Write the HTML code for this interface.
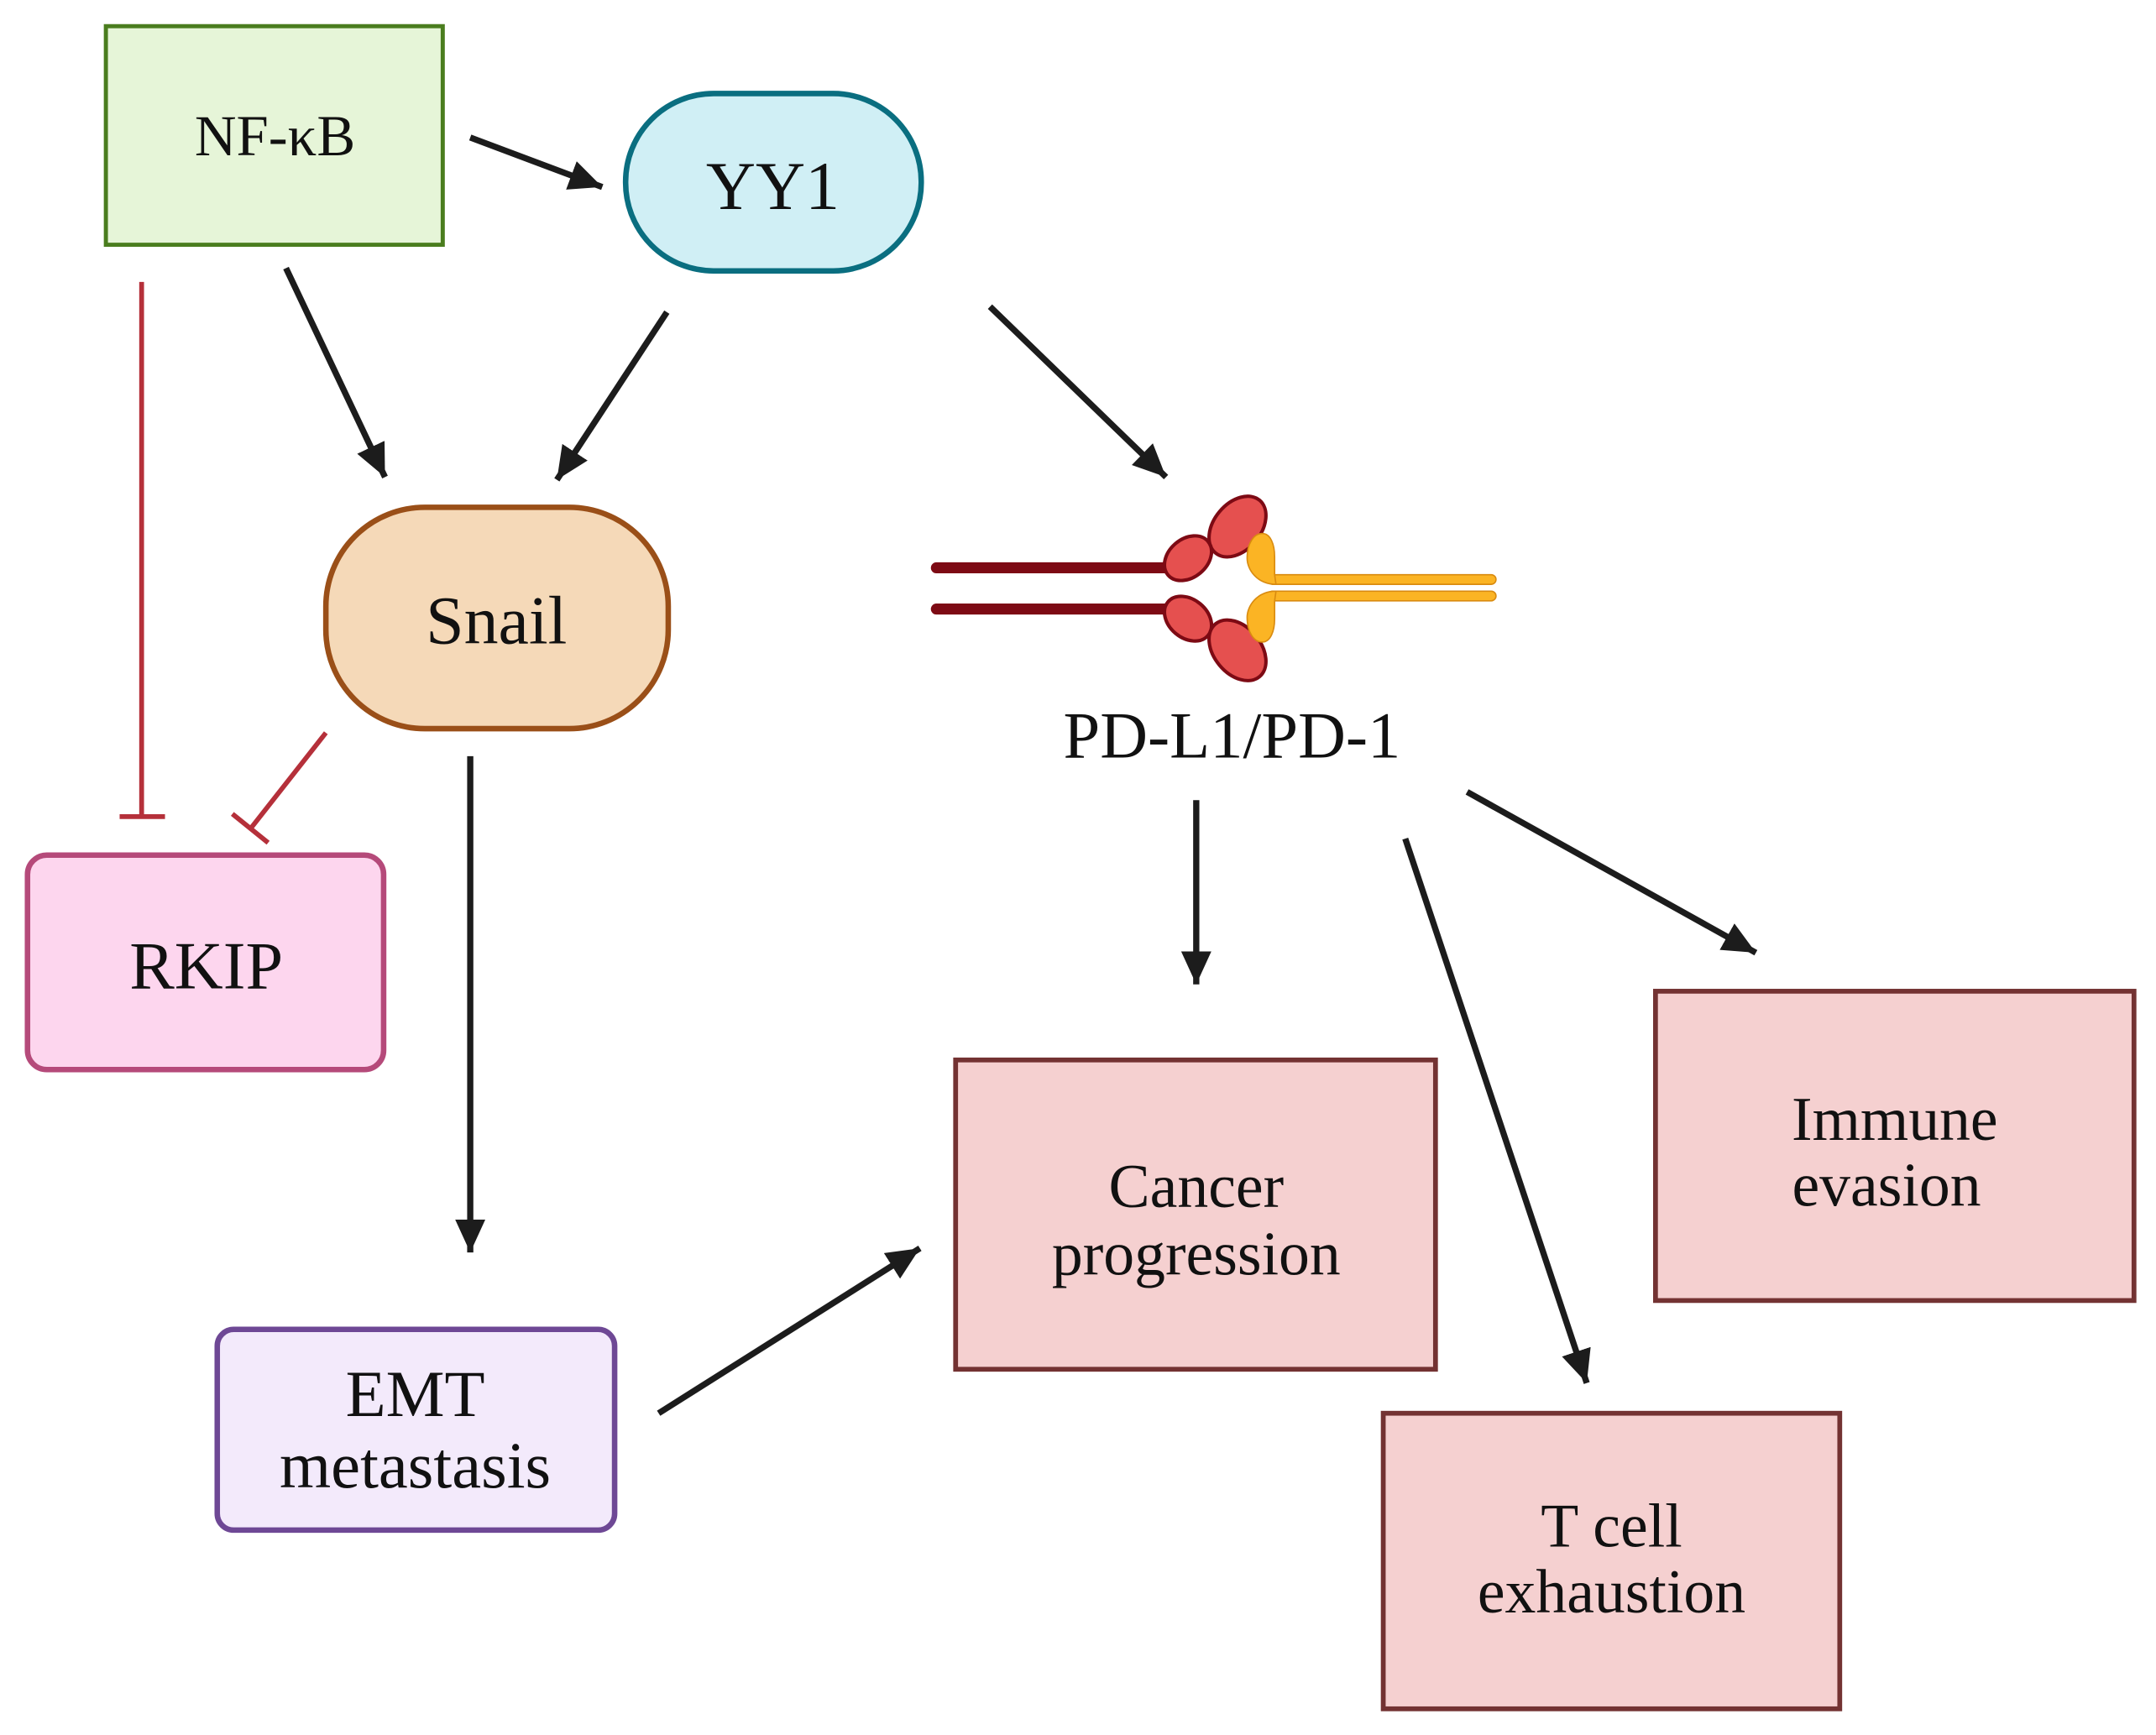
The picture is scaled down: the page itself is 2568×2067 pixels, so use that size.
<!DOCTYPE html>
<html><head><meta charset="utf-8"><style>
html,body{margin:0;padding:0;background:#fff;}
svg{display:block;}
text{font-family:"Liberation Serif","Times New Roman",serif;fill:#111;text-anchor:middle;}
</style></head><body>
<svg width="2568" height="2067" viewBox="0 0 1568 1262" xmlns="http://www.w3.org/2000/svg">
<defs>
<marker id="ah" markerUnits="userSpaceOnUse" markerWidth="30" markerHeight="30" refX="24" refY="11" orient="auto">
<polygon points="0,0 24,11 0,22" fill="#1c1c1c"/>
</marker>
</defs>
<rect width="1568" height="1262" fill="#fff"/>

<rect x="77" y="19" width="245" height="159" fill="#e6f5d8" stroke="#4a7d1e" stroke-width="3"/>
<text x="200" y="113" font-size="42">NF-κB</text>

<rect x="455" y="68" width="215" height="129" rx="64" fill="#d0eff5" stroke="#0a6e80" stroke-width="4"/>
<text x="562" y="152" font-size="50">YY1</text>

<rect x="237" y="369" width="249" height="161" rx="72" fill="#f5d9b8" stroke="#9a4f18" stroke-width="4"/>
<text x="361" y="468" font-size="50">Snail</text>

<rect x="20" y="622" width="259" height="156" rx="14" fill="#fdd6ee" stroke="#b54a7a" stroke-width="4"/>
<text x="150" y="719" font-size="49">RKIP</text>

<rect x="158" y="967" width="289" height="146" rx="12" fill="#f3eafb" stroke="#6e4895" stroke-width="4"/>
<text x="302" y="1030" font-size="48">EMT</text>
<text x="302" y="1082" font-size="48">metastasis</text>

<rect x="695" y="771" width="349" height="225" fill="#f5d0d0" stroke="#733232" stroke-width="3.5"/>
<text x="870" y="878" font-size="45">Cancer</text>
<text x="870" y="927" font-size="45">progression</text>

<rect x="1204" y="721" width="348" height="225" fill="#f5d0d0" stroke="#733232" stroke-width="3.5"/>
<text x="1378" y="829" font-size="45">Immune</text>
<text x="1372" y="877" font-size="45">evasion</text>

<rect x="1006" y="1028" width="332" height="215" fill="#f5d0d0" stroke="#733232" stroke-width="3.5"/>
<text x="1172" y="1125" font-size="45">T cell</text>
<text x="1172" y="1173" font-size="45">exhaustion</text>

<text x="896" y="551" font-size="48">PD-L1/PD-1</text>

<g>
<line x1="681" y1="413" x2="852" y2="413" stroke="#7d0a14" stroke-width="8" stroke-linecap="round"/>
<line x1="681" y1="443" x2="852" y2="443" stroke="#7d0a14" stroke-width="8" stroke-linecap="round"/>
<ellipse cx="900" cy="383" rx="25" ry="17" transform="rotate(-50 900 383)" fill="#e5504f" stroke="#7d0a14" stroke-width="2.5"/>
<ellipse cx="864" cy="406" rx="19" ry="14" transform="rotate(-40 864 406)" fill="#e5504f" stroke="#7d0a14" stroke-width="2.5"/>
<ellipse cx="864" cy="450" rx="19" ry="14" transform="rotate(40 864 450)" fill="#e5504f" stroke="#7d0a14" stroke-width="2.5"/>
<ellipse cx="900" cy="473" rx="25" ry="17" transform="rotate(50 900 473)" fill="#e5504f" stroke="#7d0a14" stroke-width="2.5"/>
<rect x="922" y="418" width="166" height="7" rx="3.5" fill="#fbb424" stroke="#d98b10" stroke-width="1"/>
<rect x="922" y="430" width="166" height="7" rx="3.5" fill="#fbb424" stroke="#d98b10" stroke-width="1"/>
<path d="M928 425 C914 425 907 414 907 406 C907 395 912 388 918 388 C924 388 927 396 927 405 L927 418 L928 425 Z" fill="#fbb424" stroke="#d98b10" stroke-width="1"/>
<path d="M928 430 C914 430 907 441 907 449 C907 460 912 467 918 467 C924 467 927 459 927 450 L927 437 L928 430 Z" fill="#fbb424" stroke="#d98b10" stroke-width="1"/>
</g>

<g stroke="#1c1c1c" stroke-width="4.5" fill="none" marker-end="url(#ah)">
<line x1="342" y1="100" x2="438" y2="136"/>
<line x1="208" y1="195" x2="280" y2="347"/>
<line x1="485" y1="227" x2="405" y2="349"/>
<line x1="720" y1="223" x2="848" y2="347"/>
<line x1="342" y1="550" x2="342" y2="911"/>
<line x1="870" y1="582" x2="870" y2="716"/>
<line x1="1022" y1="610" x2="1154" y2="1006"/>
<line x1="1067" y1="576" x2="1277" y2="693"/>
<line x1="479" y1="1028" x2="669" y2="908"/>
</g>

<g stroke="#b5303a" stroke-width="3.5" fill="none">
<line x1="103" y1="205" x2="103" y2="594"/>
<line x1="87" y1="594" x2="120" y2="594"/>
<line x1="237" y1="533" x2="182" y2="603"/>
<line x1="169" y1="592" x2="195" y2="613"/>
</g>
</svg>
</body></html>
